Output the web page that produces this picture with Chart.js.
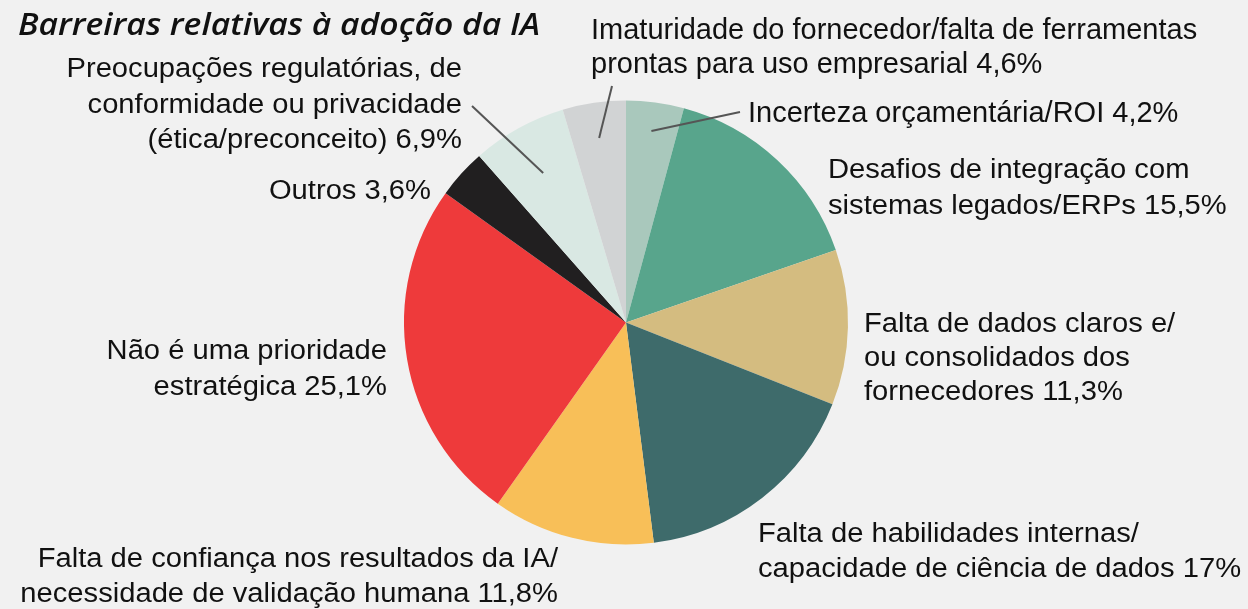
<!DOCTYPE html>
<html lang="pt">
<head>
<meta charset="utf-8">
<script src="https://cdn.jsdelivr.net/npm/chart.js"></script>
<style>
  html, body { margin: 0; padding: 0; background: #f1f1f1; }
  #wrap { width: 1248px; height: 609px; }
</style>
</head>
<body>
<div id="wrap"><canvas id="chart" width="1248" height="609"></canvas></div>
<script>
const title = 'Barreiras relativas à adoção da IA'

const categories = [
  'Incerteza orçamentária/ROI',
  'Desafios de integração com sistemas legados/ERPs',
  'Falta de dados claros e/ou consolidados dos fornecedores',
  'Falta de habilidades internas/capacidade de ciência de dados',
  'Falta de confiança nos resultados da IA/necessidade de validação humana',
  'Não é uma prioridade estratégica',
  'Outros',
  'Preocupações regulatórias, de conformidade ou privacidade (ética/preconceito)',
  'Imaturidade do fornecedor/falta de ferramentas prontas para uso empresarial'
]

// same text, broken into the lines used on the chart
const categoryLines = [
  ['Incerteza orçamentária/ROI'],
  ['Desafios de integração com', 'sistemas legados/ERPs'],
  ['Falta de dados claros e/', 'ou consolidados dos', 'fornecedores'],
  ['Falta de habilidades internas/', 'capacidade de ciência de dados'],
  ['Falta de confiança nos resultados da IA/', 'necessidade de validação humana'],
  ['Não é uma prioridade', 'estratégica'],
  ['Outros'],
  ['Preocupações regulatórias, de', 'conformidade ou privacidade', '(ética/preconceito)'],
  ['Imaturidade do fornecedor/falta de ferramentas', 'prontas para uso empresarial']
]

const values = [4.2, 15.5, 11.3, 17, 11.8, 25.1, 3.6, 6.9, 4.6]

const colors = [
  '#a9c8bc', '#58a58c', '#d4bc80', '#3e6b6b', '#f8bf58',
  '#ee3a3b', '#211f20', '#d9e8e3', '#d1d3d4'
]

// where each label sits (first baseline), plus optional leader line
const labelLayout = [
  { x: 748, y: 122, align: 'left', narrow: true, lh: 35, leader: { x: 740, y: 112, r: 0.87 } },
  { x: 828, y: 178, align: 'left', lh: 36 },
  { x: 864, y: 332, align: 'left', lh: 34 },
  { x: 758, y: 542, align: 'left', lh: 35 },
  { x: 558, y: 567, align: 'right', lh: 35 },
  { x: 387, y: 359, align: 'right', lh: 36 },
  { x: 431, y: 199, align: 'right', lh: 35 },
  { x: 462, y: 77, align: 'right', lh: 35.5, leader: { x: 472, y: 106, r: 0.77 } },
  { x: 591, y: 39, align: 'left', narrow: true, lh: 34, leader: { x: 612, y: 86, r: 0.84 } }
]

const formatPct = (v) => String(v).replace('.', ',') + '%'

function drawText(ctx, text, x, y, sx) {
  ctx.save()
  ctx.translate(x, y)
  ctx.scale(sx, 1)
  ctx.fillText(text, 0, 0)
  ctx.restore()
}

const labelsPlugin = {
  id: 'labels',
  afterDraw(chart) {
    const ctx = chart.ctx
    const arcs = chart.getDatasetMeta(0).data
    ctx.save()

    // title, stretched to the reference width
    ctx.fillStyle = '#111'
    ctx.font = 'italic 600 31px "Open Sans", sans-serif'
    ctx.textAlign = 'left'
    ctx.textBaseline = 'alphabetic'
    const tw = ctx.measureText(title).width
    drawText(ctx, title, 18, 35, 522 / tw)

    // leader lines
    ctx.strokeStyle = '#555'
    ctx.lineWidth = 2
    labelLayout.forEach((lay, i) => {
      if (!lay.leader) return
      const p = arcs[i].getProps(['x', 'y', 'startAngle', 'endAngle', 'outerRadius'], true)
      const mid = (p.startAngle + p.endAngle) / 2
      const r = p.outerRadius * lay.leader.r
      ctx.beginPath()
      ctx.moveTo(lay.leader.x, lay.leader.y)
      ctx.lineTo(p.x + Math.cos(mid) * r, p.y + Math.sin(mid) * r)
      ctx.stroke()
    })

    // labels
    ctx.fillStyle = '#111'
    labelLayout.forEach((lay, i) => {
      const lines = categoryLines[i].slice()
      lines[lines.length - 1] += ' ' + formatPct(values[i])
      ctx.font = lay.narrow
        ? '29px "Liberation Sans", Arial, sans-serif'
        : '27px "Liberation Sans", Arial, sans-serif'
      ctx.textAlign = lay.align
      const sx = lay.narrow ? 1.0 : 1.08
      lines.forEach((line, j) => {
        drawText(ctx, line, lay.x, lay.y + j * lay.lh, sx)
      })
    })
    ctx.restore()
  }
}

new Chart(document.getElementById('chart'), {
  type: 'pie',
  data: {
    labels: categories,
    datasets: [{
      data: values,
      backgroundColor: colors,
      borderWidth: 0,
      hoverOffset: 0
    }]
  },
  options: {
    responsive: false,
    animation: false,
    events: [],
    layout: {
      padding: { top: 100, bottom: 64, left: 404, right: 400 }
    },
    plugins: {
      legend: { display: false },
      tooltip: { enabled: false }
    }
  },
  plugins: [labelsPlugin]
})
</script>
</body>
</html>
